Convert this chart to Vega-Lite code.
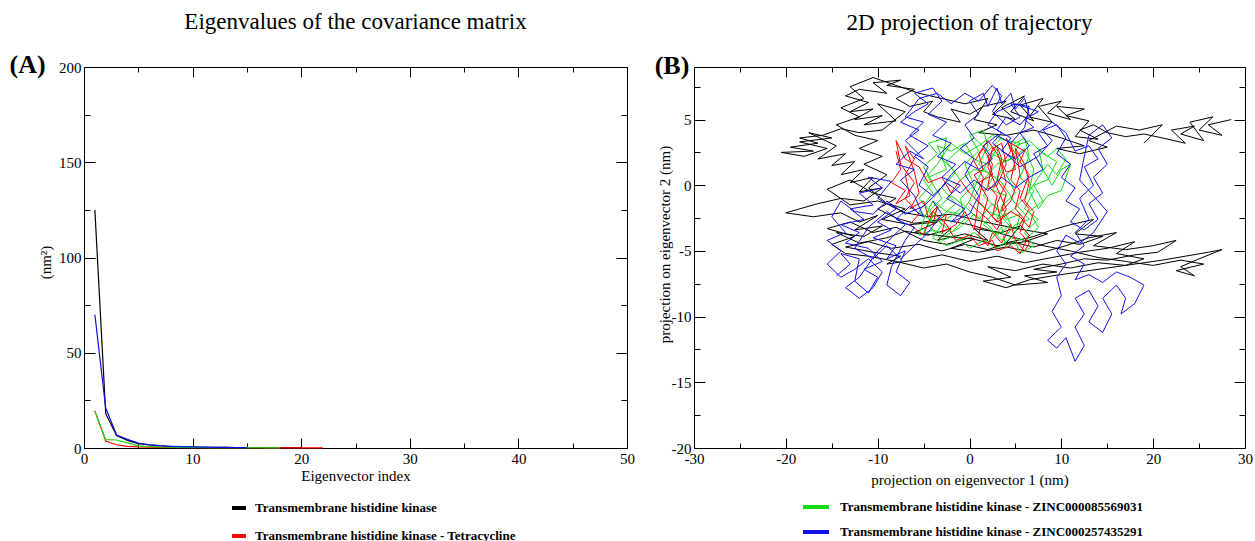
{
"$schema": "https://vega.github.io/schema/vega-lite/v6.json",
"background": "white",
"padding": {"left": 8, "top": 10, "right": 0, "bottom": 0},
"spacing": 19,
"config": {
  "font": "Liberation Serif",
  "view": {"stroke": "black", "strokeWidth": 1},
  "axis": {"domain": false, "grid": false, "labelFont": "Liberation Serif", "labelFontSize": 15, "labelColor": "black", "titleFont": "Liberation Serif", "titleFontSize": 15, "titleFontWeight": "normal", "titleColor": "black", "tickColor": "black", "tickWidth": 1, "labelOverlap": false, "labelFlush": false, "minExtent": 0},
  "title": {"font": "Liberation Serif", "fontSize": 23, "fontWeight": "normal", "color": "black", "offset": 18},
  "legend": {"title": null, "orient": "none", "direction": "vertical", "symbolType": "stroke", "symbolStrokeWidth": 4, "labelFont": "Liberation Serif", "labelFontSize": 13, "labelFontWeight": "bold", "labelColor": "black", "labelLimit": 600}
},
"resolve": {"scale": {"color": "independent"}, "legend": {"color": "independent"}},
"hconcat": [
{
  "width": 543, "height": 381,
  "title": {"text": "Eigenvalues of the covariance matrix"},
  "resolve": {"axis": {"x": "independent", "y": "independent"}},
  "layer": [
    {"data": {"values": [{"x":1,"y":125},{"x":2,"y":18},{"x":3,"y":6.5},{"x":4,"y":4},{"x":5,"y":2.3},{"x":6,"y":1.6},{"x":7,"y":1.1},{"x":8,"y":0.8},{"x":9,"y":0.6},{"x":10,"y":0.5},{"x":11,"y":0.4},{"x":12,"y":0.35},{"x":13,"y":0.3},{"x":14,"y":0.25},{"x":15,"y":0.2},{"x":16,"y":0.18},{"x":17,"y":0.16},{"x":18,"y":0.14},{"x":19,"y":0.12},{"x":20,"y":0.1}]},
     "mark": {"type": "line", "strokeWidth": 1.2},
     "encoding": {
        "x": {"field": "x", "type": "quantitative", "scale": {"domain": [0, 50], "nice": false, "zero": false},
              "axis": {"orient": "bottom", "title": "Eigenvector index", "titleY": 20, "values": [0,5,10,15,20,25,30,35,40,45,50],
                       "labelExpr": "datum.value % 10 === 0 ? '' + datum.value : ''",
                       "tickSize": {"condition": {"test": "datum.value % 10 === 0", "value": -10}, "value": -5}, "labelPadding": 13}},
        "y": {"field": "y", "type": "quantitative", "scale": {"domain": [0, 200], "nice": false},
              "axis": {"orient": "left", "title": "(nm²)", "titleAngle": 270, "titleBaseline": "middle", "titleX": -39, "titleY": 195, "values": [0,25,50,75,100,125,150,175,200],
                       "labelExpr": "datum.value % 50 === 0 ? '' + datum.value : ''",
                       "tickSize": {"condition": {"test": "datum.value % 50 === 0", "value": -11}, "value": -6}, "labelPadding": 14}},
        "color": {"datum": "Transmembrane histidine kinase", "type": "nominal",
            "scale": {"domain": ["Transmembrane histidine kinase", "Transmembrane histidine kinase - Tetracycline", "Transmembrane histidine kinase - ZINC000085569031", "Transmembrane histidine kinase - ZINC000257435291"], "range": ["#000000", "#ff0000", "#10dd10", "#1010e8"]},
            "legend": {"values": ["Transmembrane histidine kinase", "Transmembrane histidine kinase - Tetracycline"], "legendX": 146, "legendY": 432, "symbolSize": 196, "labelOffset": 7, "rowPadding": 11}}}},
    {"data": {"values": [{"x":1,"y":19.5},{"x":2,"y":3.6},{"x":3,"y":1.7},{"x":4,"y":0.9},{"x":5,"y":0.6},{"x":6,"y":0.45},{"x":7,"y":0.35},{"x":8,"y":0.3},{"x":10,"y":0.22},{"x":12,"y":0.18},{"x":15,"y":0.14},{"x":18,"y":0.1},{"x":22,"y":0.08}]},
     "mark": {"type": "line", "strokeWidth": 1.2},
     "encoding": {
        "x": {"field": "x", "type": "quantitative", "scale": {"domain": [0, 50], "nice": false, "zero": false}, "axis": null},
        "y": {"field": "y", "type": "quantitative", "scale": {"domain": [0, 200], "nice": false}, "axis": null},
        "color": {"datum": "Transmembrane histidine kinase - Tetracycline", "type": "nominal",
            "scale": {"domain": ["Transmembrane histidine kinase", "Transmembrane histidine kinase - Tetracycline", "Transmembrane histidine kinase - ZINC000085569031", "Transmembrane histidine kinase - ZINC000257435291"], "range": ["#000000", "#ff0000", "#10dd10", "#1010e8"]}}}},
    {"data": {"values": [{"x":1,"y":19.5},{"x":2,"y":4.4},{"x":3,"y":4.2},{"x":4,"y":2.7},{"x":5,"y":1.1},{"x":6,"y":0.8},{"x":7,"y":0.6},{"x":8,"y":0.45},{"x":9,"y":0.35},{"x":10,"y":0.3},{"x":12,"y":0.22},{"x":14,"y":0.17},{"x":16,"y":0.13},{"x":18,"y":0.1}]},
     "mark": {"type": "line", "strokeWidth": 1.2},
     "encoding": {
        "x": {"field": "x", "type": "quantitative", "scale": {"domain": [0, 50], "nice": false, "zero": false}, "axis": null},
        "y": {"field": "y", "type": "quantitative", "scale": {"domain": [0, 200], "nice": false}, "axis": null},
        "color": {"datum": "Transmembrane histidine kinase - ZINC000085569031", "type": "nominal",
            "scale": {"domain": ["Transmembrane histidine kinase", "Transmembrane histidine kinase - Tetracycline", "Transmembrane histidine kinase - ZINC000085569031", "Transmembrane histidine kinase - ZINC000257435291"], "range": ["#000000", "#ff0000", "#10dd10", "#1010e8"]}}}},
    {"data": {"values": [{"x":1,"y":70},{"x":2,"y":21},{"x":3,"y":6.8},{"x":4,"y":4.5},{"x":5,"y":2.6},{"x":6,"y":1.7},{"x":7,"y":1.2},{"x":8,"y":0.9},{"x":9,"y":0.7},{"x":10,"y":0.55},{"x":11,"y":0.45},{"x":12,"y":0.38},{"x":13,"y":0.32},{"x":14,"y":0.27},{"x":15,"y":0.22}]},
     "mark": {"type": "line", "strokeWidth": 1.2},
     "encoding": {
        "x": {"field": "x", "type": "quantitative", "scale": {"domain": [0, 50], "nice": false, "zero": false}, "axis": null},
        "y": {"field": "y", "type": "quantitative", "scale": {"domain": [0, 200], "nice": false}, "axis": null},
        "color": {"datum": "Transmembrane histidine kinase - ZINC000257435291", "type": "nominal",
            "scale": {"domain": ["Transmembrane histidine kinase", "Transmembrane histidine kinase - Tetracycline", "Transmembrane histidine kinase - ZINC000085569031", "Transmembrane histidine kinase - ZINC000257435291"], "range": ["#000000", "#ff0000", "#10dd10", "#1010e8"]}}}},
    {"data": {"values": [{}]},
     "mark": {"type": "text", "text": "(A)", "font": "Liberation Serif", "fontSize": 26, "fontWeight": "bold", "align": "center", "baseline": "middle", "color": "black"},
     "encoding": {"x": {"datum": -5.2, "type": "quantitative", "axis": null}, "y": {"datum": 201, "type": "quantitative", "axis": null}}},
    {"data": {"values": []},
     "mark": "point",
     "encoding": {
        "x": {"field": "x", "type": "quantitative", "scale": {"domain": [0, 50], "nice": false, "zero": false},
              "axis": {"orient": "top", "title": null, "labels": false, "values": [0,5,10,15,20,25,30,35,40,45,50],
                       "tickSize": {"condition": {"test": "datum.value % 10 === 0", "value": -10}, "value": -5}}},
        "y": {"field": "y", "type": "quantitative", "scale": {"domain": [0, 200], "nice": false},
              "axis": {"orient": "right", "title": null, "labels": false, "values": [0,25,50,75,100,125,150,175,200],
                       "tickSize": {"condition": {"test": "datum.value % 50 === 0", "value": -11}, "value": -6}}}
     }}
  ]
},
{
  "width": 551, "height": 381,
  "title": {"text": "2D projection of trajectory"},
  "resolve": {"axis": {"x": "independent", "y": "independent"}},
  "layer": [
    {"data": {"values": [
{"x":28.5,"y":5.0},{"x":26,"y":4.6},{"x":27.5,"y":3.8},{"x":25,"y":4.2},{"x":26.5,"y":5.2},{"x":24,"y":4.8},{"x":25.5,"y":3.4},{"x":23,"y":3.9},{"x":24.5,"y":4.5},{"x":22,"y":4.2},{"x":23.5,"y":3.2},{"x":21,"y":3.6},{"x":19,"y":3.9},{"x":17,"y":3.7},{"x":15,"y":4.0},{"x":13.5,"y":4.6},{"x":12,"y":4.2},{"x":14,"y":3.5},{"x":11.5,"y":3.7},{"x":13,"y":4.9},{"x":10.5,"y":5.3},{"x":12.5,"y":5.8},{"x":9.5,"y":6.0},{"x":11,"y":5.0},{"x":8.5,"y":5.5},{"x":10,"y":6.4},{"x":7.5,"y":6.0},{"x":9,"y":4.8},{"x":6.5,"y":5.2},{"x":8,"y":6.6},{"x":5.5,"y":6.1},{"x":7,"y":4.9},{"x":4.5,"y":5.6},{"x":6,"y":6.8},{"x":3.5,"y":5.9},{"x":5,"y":5.0},{"x":2.5,"y":5.4},{"x":4,"y":6.4},{"x":1.5,"y":6.0},{"x":0,"y":5.4},{"x":-2,"y":5.8},{"x":-1,"y":4.8},{"x":-3.5,"y":5.2},{"x":-5,"y":5.6},{"x":-4,"y":6.4},{"x":-6.5,"y":6.0},{"x":-8,"y":6.6},{"x":-6,"y":7.3},{"x":-9,"y":7.6},{"x":-7.5,"y":8.0},{"x":-10.5,"y":7.8},{"x":-9,"y":7.0},{"x":-12,"y":7.3},{"x":-13.5,"y":6.8},{"x":-11,"y":6.3},{"x":-13,"y":5.6},{"x":-10.5,"y":5.8},{"x":-12.5,"y":5.0},{"x":-9.5,"y":5.3},{"x":-11.5,"y":4.6},{"x":-8,"y":4.9},{"x":-10,"y":6.2},{"x":-7,"y":5.6},{"x":-9.5,"y":4.2},{"x":-12,"y":4.0},{"x":-14,"y":4.3},{"x":-16,"y":3.8},{"x":-18.5,"y":3.6},{"x":-16.5,"y":3.2},{"x":-19.5,"y":2.9},{"x":-17,"y":2.6},{"x":-20.5,"y":2.5},{"x":-18,"y":2.2},{"x":-15.5,"y":2.8},{"x":-18.5,"y":3.3},{"x":-15,"y":3.6},{"x":-17.5,"y":4.0},{"x":-14.5,"y":3.0},{"x":-16.5,"y":2.0},{"x":-13.5,"y":2.4},{"x":-15,"y":1.5},{"x":-12.5,"y":1.8},{"x":-14,"y":0.8},{"x":-11.5,"y":1.2},{"x":-13,"y":0.2},{"x":-10.5,"y":0.6},{"x":-12,"y":-0.5},{"x":-9.5,"y":-0.2},{"x":-11.5,"y":-1.2},{"x":-14,"y":-1.0},{"x":-16.5,"y":-1.4},{"x":-20,"y":-2.1},{"x":-17,"y":-2.4},{"x":-14,"y":-2.1},{"x":-12,"y":-2.8},{"x":-10,"y":-2.3},{"x":-12.5,"y":-3.4},{"x":-9.5,"y":-3.1},{"x":-11.5,"y":-3.9},{"x":-14.5,"y":-3.6},{"x":-12,"y":-4.4},{"x":-9,"y":-4.0},{"x":-7,"y":-3.5},{"x":-4.5,"y":-3.8},{"x":-2,"y":-3.3},{"x":-3.5,"y":-4.2},{"x":-0.5,"y":-3.7},{"x":2,"y":-4.2},{"x":0.5,"y":-3.3},{"x":3.5,"y":-3.6},{"x":5.5,"y":-3.1},{"x":4,"y":-4.4},{"x":7,"y":-3.9},{"x":9,"y":-3.4},{"x":11,"y":-3.0},{"x":13.5,"y":-2.6},{"x":11.5,"y":-3.7},{"x":14.5,"y":-3.9},{"x":12,"y":-4.5},{"x":9.5,"y":-4.2},{"x":7,"y":-4.7},{"x":4.5,"y":-4.3},{"x":2,"y":-4.9},{"x":-0.5,"y":-4.5},{"x":-3,"y":-5.0},{"x":-5.5,"y":-4.5},{"x":-8.5,"y":-4.8},{"x":-11,"y":-4.3},{"x":-13.5,"y":-4.7},{"x":-10.5,"y":-5.1},{"x":-7.5,"y":-5.4},{"x":-9,"y":-6.0},{"x":-6,"y":-5.7},{"x":-3,"y":-5.3},{"x":0,"y":-5.8},{"x":3,"y":-5.4},{"x":6,"y":-5.9},{"x":9,"y":-5.5},{"x":12,"y":-5.1},{"x":15,"y":-4.8},{"x":18,"y":-4.3},{"x":16,"y":-5.2},{"x":19,"y":-5.6},{"x":17,"y":-6.1},{"x":14,"y":-5.9},{"x":11,"y":-6.3},{"x":8,"y":-6.0},{"x":5,"y":-6.5},{"x":2,"y":-6.2},{"x":4.5,"y":-7.0},{"x":1.5,"y":-7.3},{"x":4,"y":-7.8},{"x":6.5,"y":-7.2},{"x":9,"y":-6.9},{"x":12,"y":-6.6},{"x":15,"y":-6.3},{"x":18,"y":-6.0},{"x":21,"y":-5.7},{"x":23.5,"y":-5.4},{"x":26,"y":-5.1},{"x":27.5,"y":-4.9},{"x":25,"y":-5.6},{"x":23,"y":-6.2},{"x":24.5,"y":-6.9},{"x":22.5,"y":-6.5},{"x":25.5,"y":-6.0},{"x":23,"y":-5.7},{"x":20,"y":-6.1},{"x":17,"y":-5.8},{"x":14,"y":-5.5},{"x":11,"y":-5.0},{"x":8,"y":-4.6},{"x":5,"y":-4.0},{"x":2.5,"y":-3.5},{"x":0,"y":-3.0},{"x":-3,"y":-2.6},{"x":-6,"y":-2.9},{"x":-8,"y":-2.5},{"x":-10,"y":-1.8},{"x":-8,"y":-1.0},{"x":-10.5,"y":-0.6},
{"x":-13,"y":0.4},{"x":-15.5,"y":-0.3},{"x":-13,"y":-1.5},{"x":-10,"y":-1.2},{"x":-7,"y":-1.8},{"x":-9.5,"y":-2.6},{"x":-6.5,"y":-3.0},{"x":-3.5,"y":-2.8},{"x":-6,"y":-3.6},{"x":-2.5,"y":-3.9},{"x":0.5,"y":-4.1},{"x":-2,"y":-4.8},{"x":1,"y":-5.1},{"x":4,"y":-4.7},{"x":7.5,"y":-5.2},{"x":10.5,"y":-4.6},{"x":13,"y":-4.0},{"x":16,"y":-3.6},{"x":13.5,"y":-4.6},{"x":17,"y":-4.9},{"x":20,"y":-4.6},{"x":22.5,"y":-4.2},{"x":20.5,"y":-5.1},{"x":18,"y":-5.3},{"x":15,"y":-5.7},{"x":12.5,"y":-5.6},{"x":10,"y":-6.0},{"x":7,"y":-6.4},{"x":9.5,"y":-6.6},{"x":6,"y":-6.9},{"x":8.5,"y":-7.4},{"x":5,"y":-7.6},{"x":2.5,"y":-7.0},{"x":0,"y":-6.6},{"x":-2.5,"y":-6.0},{"x":-5,"y":-6.3},{"x":-8,"y":-5.8},{"x":-11,"y":-5.4},{"x":-13.5,"y":-5.2},{"x":-15,"y":-4.5},{"x":-12.5,"y":-3.9},{"x":-15.5,"y":-3.3},{"x":-13,"y":-2.8},{"x":-10.5,"y":-3.6},{"x":-8,"y":-3.2},{"x":-5,"y":-4.2},{"x":-2.5,"y":-4.5},{"x":0,"y":-4.0},{"x":3,"y":-4.6},{"x":6,"y":-4.3},{"x":8.5,"y":-3.7},{"x":6,"y":-3.4},{"x":3,"y":-3.0},{"x":0.5,"y":-2.6},{"x":-2,"y":-2.2},{"x":-4.5,"y":-2.4},{"x":-7,"y":-2.1},{"x":-9,"y":-1.4},{"x":-11,"y":-0.2},{"x":-9,"y":0.8},{"x":-11.5,"y":1.6},{"x":-9.5,"y":2.2},{"x":-12,"y":2.8},{"x":-10,"y":3.4},{"x":-12.5,"y":3.8},{"x":-14.5,"y":4.6},{"x":-12,"y":5.2},{"x":-14,"y":5.9},{"x":-11.5,"y":6.6},{"x":-13,"y":7.5},{"x":-10.5,"y":8.2},{"x":-8,"y":7.6},{"x":-5.5,"y":7.0},{"x":-3,"y":6.6},{"x":-0.5,"y":6.2},{"x":2,"y":6.6},{"x":0.5,"y":5.0},{"x":3,"y":4.6},{"x":1,"y":4.0},{"x":4,"y":3.8},{"x":7,"y":4.2},{"x":10,"y":3.6},{"x":12.5,"y":3.0},{"x":9.5,"y":2.8},{"x":12,"y":2.4},{"x":15,"y":2.9},{"x":13,"y":3.4},{"x":16,"y":4.5},{"x":18.5,"y":4.2},{"x":21,"y":4.6},{"x":19,"y":3.2}
     ]},
     "mark": {"type": "line", "strokeWidth": 1},
     "encoding": {
        "order": {"value": null},
        "x": {"field": "x", "type": "quantitative", "scale": {"domain": [-30, 30], "nice": false, "zero": false},
              "axis": {"orient": "bottom", "title": "projection on eigenvector 1 (nm)", "titleY": 24, "values": [-30,-25,-20,-15,-10,-5,0,5,10,15,20,25,30],
                       "labelExpr": "datum.value % 10 === 0 ? '' + datum.value : ''",
                       "tickSize": {"condition": {"test": "datum.value % 10 === 0", "value": -10}, "value": -5}, "labelPadding": 13}},
        "y": {"field": "y", "type": "quantitative", "scale": {"domain": [-20, 9], "nice": false, "zero": false},
              "axis": {"orient": "left", "title": "projection on eigenvector 2 (nm)", "titleAngle": 270, "titleBaseline": "middle", "titleX": -30, "titleY": 177, "values": [-20,-17.5,-15,-12.5,-10,-7.5,-5,-2.5,0,2.5,5,7.5],
                       "labelExpr": "datum.value % 5 === 0 ? '' + datum.value : ''",
                       "tickSize": {"condition": {"test": "datum.value % 5 === 0", "value": -11}, "value": -6}, "labelPadding": 14}},
        "color": {"datum": "Transmembrane histidine kinase", "type": "nominal",
            "scale": {"domain": ["Transmembrane histidine kinase", "Transmembrane histidine kinase - Tetracycline", "Transmembrane histidine kinase - ZINC000085569031", "Transmembrane histidine kinase - ZINC000257435291"], "range": ["#000000", "#ff0000", "#10dd10", "#1010e8"]},
            "legend": {"values": ["Transmembrane histidine kinase - ZINC000085569031", "Transmembrane histidine kinase - ZINC000257435291"], "legendX": 107, "legendY": 425, "symbolSize": 676, "labelOffset": 9, "rowPadding": 2,
                       "encode": {"symbols": {"update": {"stroke": {"signal": "datum.value === 'Transmembrane histidine kinase - ZINC000085569031' ? '#2aae4a' : '#1b2866'"}}}}}}}},
    {"data": {"values": [
{"x":-5,"y":-3.6},{"x":-4,"y":-2.2},{"x":-5.5,"y":-1.0},{"x":-4,"y":0.2},{"x":-5,"y":1.4},{"x":-3.5,"y":2.4},{"x":-4.5,"y":3.2},{"x":-2.5,"y":3.6},{"x":-3,"y":2.0},{"x":-1.5,"y":1.0},{"x":-3,"y":-0.2},{"x":-1.5,"y":-1.4},{"x":-3.5,"y":-2.6},{"x":-2,"y":-3.6},{"x":-0.5,"y":-2.6},{"x":-1,"y":-1.0},{"x":0.5,"y":0.0},{"x":-0.5,"y":1.6},{"x":1,"y":2.6},{"x":0,"y":3.8},{"x":1.5,"y":4.2},{"x":2,"y":3.0},{"x":1,"y":1.6},{"x":2.5,"y":0.6},{"x":1.5,"y":-0.8},{"x":3,"y":-1.8},{"x":1.5,"y":-3.0},{"x":3,"y":-3.8},{"x":4.5,"y":-3.0},{"x":3.5,"y":-1.6},{"x":5,"y":-0.6},{"x":4,"y":0.8},{"x":5.5,"y":1.8},{"x":4.5,"y":3.0},{"x":6,"y":3.6},{"x":6.5,"y":2.2},{"x":5.5,"y":0.6},{"x":7,"y":-0.4},{"x":6,"y":-1.8},{"x":7.5,"y":-2.6},{"x":6,"y":-3.6},{"x":7,"y":-4.6},{"x":5.5,"y":-5.2},{"x":5,"y":-4.2},{"x":4,"y":-4.8},{"x":3.5,"y":-3.2},{"x":2,"y":-4.4},{"x":0.5,"y":-3.6},{"x":-1,"y":-4.2},{"x":-2.5,"y":-4.6},{"x":-4,"y":-4.0},{"x":-3,"y":-3.0},{"x":-4.5,"y":-2.0},{"x":-3,"y":-1.0},{"x":-4.5,"y":0.6},{"x":-2.5,"y":1.2},{"x":-3.5,"y":3.0},{"x":-2,"y":2.6},{"x":-0.5,"y":3.2},{"x":0.5,"y":2.0},{"x":2,"y":1.6},{"x":3,"y":2.8},{"x":3.5,"y":1.2},{"x":2.5,"y":-0.4},{"x":4,"y":-0.8},{"x":3,"y":-2.6},{"x":4.5,"y":-2.0},{"x":6,"y":-1.0},{"x":7.5,"y":0.6},{"x":8.5,"y":1.6},{"x":9.5,"y":0.8},{"x":10.5,"y":2.0},{"x":9.5,"y":2.8},{"x":8.5,"y":2.2},{"x":7.5,"y":2.8},{"x":8,"y":1.2},{"x":9,"y":0.0},{"x":10,"y":1.2},{"x":11,"y":1.6},{"x":10,"y":-0.4},{"x":8.5,"y":-0.8},{"x":7.5,"y":-1.8},{"x":6.5,"y":-0.4},{"x":7,"y":1.2},{"x":6,"y":2.8},{"x":5,"y":2.2},{"x":4,"y":1.8},{"x":2.5,"y":2.4},{"x":1,"y":0.6},{"x":0,"y":-1.2},{"x":-1,"y":-2.2},{"x":-2.5,"y":-2.0},{"x":-4,"y":-1.2},{"x":-5,"y":-2.6},{"x":-5.5,"y":-3.8},{"x":-4,"y":-3.4},{"x":-2.5,"y":-3.8},{"x":-1,"y":-3.2},{"x":0.5,"y":-2.2},{"x":2,"y":-3.0},{"x":3.5,"y":-4.2},{"x":5,"y":-3.0},{"x":6.5,"y":-2.6},{"x":5,"y":-1.4},{"x":3.5,"y":0.2},{"x":2,"y":1.0},{"x":0.5,"y":1.2},
{"x":-1,"y":0.4},{"x":-2.5,"y":1.8},{"x":-1,"y":2.8},{"x":0.5,"y":3.6},{"x":2,"y":2.6},{"x":3.5,"y":3.6},{"x":5,"y":3.0},{"x":6.5,"y":3.4},{"x":8,"y":2.4},{"x":9.5,"y":1.8},{"x":8.5,"y":0.4},{"x":7,"y":0.0},{"x":8,"y":-1.2},{"x":6.5,"y":-2.0},{"x":7.5,"y":-3.2},{"x":6,"y":-4.2},{"x":4.5,"y":-4.0},{"x":3,"y":-4.8},{"x":1.5,"y":-4.2},{"x":0,"y":-4.8},{"x":-1.5,"y":-3.8},{"x":-3,"y":-4.2},{"x":-4.5,"y":-3.0},{"x":-3.5,"y":-1.8},{"x":-2,"y":-0.8},{"x":-0.5,"y":-1.6},{"x":1,"y":-2.6},{"x":2.5,"y":-1.4},{"x":4,"y":-2.6},{"x":5.5,"y":-2.2},{"x":5,"y":-3.6},{"x":3.5,"y":-2.4},{"x":2,"y":-2.0},{"x":0.5,"y":-1.0},{"x":1.5,"y":0.4},{"x":3,"y":1.6},{"x":4.5,"y":2.0},{"x":5.5,"y":3.2},{"x":4,"y":3.4},{"x":2.5,"y":3.8},{"x":1,"y":3.0},{"x":-0.5,"y":2.4},{"x":-2,"y":3.2},{"x":-3.5,"y":1.6},{"x":-5,"y":0.4},{"x":-4,"y":-0.6},{"x":-5.5,"y":-2.0},{"x":-4,"y":-2.8},{"x":-2.5,"y":-2.6},{"x":-1,"y":-1.8}
     ]},
     "mark": {"type": "line", "strokeWidth": 1},
     "encoding": {
        "order": {"value": null},
        "x": {"field": "x", "type": "quantitative", "scale": {"domain": [-30, 30], "nice": false, "zero": false}, "axis": null},
        "y": {"field": "y", "type": "quantitative", "scale": {"domain": [-20, 9], "nice": false, "zero": false}, "axis": null},
        "color": {"datum": "Transmembrane histidine kinase - ZINC000085569031", "type": "nominal",
            "scale": {"domain": ["Transmembrane histidine kinase", "Transmembrane histidine kinase - Tetracycline", "Transmembrane histidine kinase - ZINC000085569031", "Transmembrane histidine kinase - ZINC000257435291"], "range": ["#000000", "#ff0000", "#10dd10", "#1010e8"]}}}},
    {"data": {"values": [
{"x":-8,"y":2.6},{"x":-7.5,"y":1.2},{"x":-8.5,"y":0.2},{"x":-7,"y":-0.4},{"x":-8,"y":-1.4},{"x":-6.5,"y":-0.8},{"x":-7,"y":0.8},{"x":-6,"y":2.0},{"x":-7,"y":3.0},{"x":-6,"y":1.0},{"x":-5.5,"y":-0.6},{"x":-6.5,"y":-1.8},{"x":-5,"y":-1.2},{"x":-4.5,"y":-2.4},{"x":-3.5,"y":-1.6},{"x":-4,"y":-3.0},{"x":-2.5,"y":-2.2},{"x":-3,"y":-3.6},{"x":-1.5,"y":-3.0},{"x":-0.5,"y":-2.0},{"x":0.5,"y":-3.4},{"x":1,"y":-1.2},{"x":1.5,"y":0.6},{"x":0.5,"y":1.8},{"x":1.5,"y":2.8},{"x":2.5,"y":1.6},{"x":2,"y":0.0},{"x":3,"y":-0.8},{"x":2.5,"y":-2.4},{"x":3.5,"y":-3.0},{"x":3,"y":-1.4},{"x":4,"y":0.2},{"x":3.5,"y":1.6},{"x":4.5,"y":2.6},{"x":4,"y":3.6},{"x":5,"y":2.0},{"x":4.5,"y":0.4},{"x":5.5,"y":-0.4},{"x":5,"y":-1.8},{"x":6,"y":-2.6},{"x":5.5,"y":-3.6},{"x":6.5,"y":-4.4},{"x":6,"y":-5.0},{"x":5,"y":-4.2},{"x":4.5,"y":-3.0},{"x":3.5,"y":-4.4},{"x":2.5,"y":-3.6},{"x":2,"y":-4.6},{"x":1,"y":-3.8},{"x":1.5,"y":-2.2},{"x":2,"y":-1.0},{"x":1,"y":0.2},{"x":2.5,"y":0.8},{"x":2,"y":2.2},{"x":3,"y":3.0},{"x":3.5,"y":2.0},{"x":3,"y":0.4},{"x":4,"y":-0.6},{"x":3.5,"y":-2.0},{"x":4.5,"y":-1.2},{"x":5.5,"y":0.8},{"x":5,"y":2.8},{"x":6,"y":1.6},{"x":6.5,"y":0.2},{"x":6,"y":-1.2},{"x":7,"y":-2.0},{"x":6.5,"y":-3.2},{"x":5.5,"y":-2.4},{"x":4.5,"y":-2.0},{"x":3,"y":-2.8},{"x":1.5,"y":-1.6},{"x":0,"y":-0.6},{"x":-1,"y":0.4},{"x":-2,"y":-0.6},{"x":-3,"y":0.6},{"x":-4.5,"y":0.2},{"x":-5.5,"y":1.4},{"x":-7,"y":2.0},{"x":-8,"y":3.4},
{"x":-7.5,"y":1.6},{"x":-6,"y":0.2},{"x":-7,"y":-1.0},{"x":-5.5,"y":-2.2},{"x":-6.5,"y":-3.0},{"x":-5,"y":-3.8},{"x":-4,"y":-2.0},{"x":-2.5,"y":-3.0},{"x":-1.5,"y":-4.2},{"x":0,"y":-3.8},{"x":1,"y":-4.6},{"x":2.5,"y":-4.2},{"x":3,"y":-5.0},{"x":4.5,"y":-4.6},{"x":5.5,"y":-5.2},{"x":6.5,"y":-3.8},{"x":5.5,"y":-3.0},{"x":6.5,"y":-1.8},{"x":5.5,"y":-1.0},{"x":6.5,"y":0.8},{"x":5.5,"y":1.8},{"x":6,"y":2.6},{"x":4.5,"y":3.2},{"x":5,"y":1.2},{"x":4,"y":1.0},{"x":3,"y":2.4},{"x":2,"y":3.4},{"x":1,"y":2.4},{"x":1.5,"y":1.2},{"x":0.5,"y":0.8},{"x":1.5,"y":-0.4},{"x":3,"y":0.0},{"x":4,"y":1.6},{"x":3.5,"y":3.2},{"x":2.5,"y":2.8},{"x":2,"y":1.4},{"x":3,"y":-0.2},{"x":4,"y":-1.8},{"x":3,"y":-3.4},{"x":2,"y":-2.6},{"x":1,"y":-2.0},{"x":0,"y":-1.4}
     ]},
     "mark": {"type": "line", "strokeWidth": 1},
     "encoding": {
        "order": {"value": null},
        "x": {"field": "x", "type": "quantitative", "scale": {"domain": [-30, 30], "nice": false, "zero": false}, "axis": null},
        "y": {"field": "y", "type": "quantitative", "scale": {"domain": [-20, 9], "nice": false, "zero": false}, "axis": null},
        "color": {"datum": "Transmembrane histidine kinase - Tetracycline", "type": "nominal",
            "scale": {"domain": ["Transmembrane histidine kinase", "Transmembrane histidine kinase - Tetracycline", "Transmembrane histidine kinase - ZINC000085569031", "Transmembrane histidine kinase - ZINC000257435291"], "range": ["#000000", "#ff0000", "#10dd10", "#1010e8"]}}}},
    {"data": {"values": [
{"x":-14.5,"y":-6.9},{"x":-13,"y":-6.0},{"x":-14,"y":-5.2},{"x":-12,"y":-5.6},{"x":-12.5,"y":-7.3},{"x":-11,"y":-8.2},{"x":-10,"y":-7.0},{"x":-11.5,"y":-6.4},{"x":-9.5,"y":-5.8},{"x":-11,"y":-4.8},{"x":-13.5,"y":-4.4},{"x":-12,"y":-3.6},{"x":-14,"y":-3.0},{"x":-11.5,"y":-2.6},{"x":-13,"y":-1.8},{"x":-10.5,"y":-1.5},{"x":-12,"y":-0.6},{"x":-9.5,"y":-0.2},{"x":-11,"y":0.6},{"x":-8.5,"y":0.3},{"x":-10,"y":-1.0},{"x":-8,"y":-1.8},{"x":-10,"y":-2.8},{"x":-8.5,"y":-3.4},{"x":-10.5,"y":-4.0},{"x":-8,"y":-4.6},{"x":-9,"y":-5.6},{"x":-7,"y":-5.0},{"x":-8,"y":-6.6},{"x":-6.5,"y":-7.4},{"x":-7.5,"y":-8.4},{"x":-9,"y":-7.6},{"x":-8.5,"y":-6.2},{"x":-7,"y":-4.2},{"x":-6,"y":-3.2},{"x":-8,"y":-2.6},{"x":-6.5,"y":-1.6},{"x":-5,"y":-2.4},{"x":-6,"y":-0.8},{"x":-7.5,"y":0.4},{"x":-6,"y":1.2},{"x":-8,"y":1.6},{"x":-6.5,"y":2.6},{"x":-5,"y":2.0},{"x":-7,"y":3.4},{"x":-5.5,"y":4.2},{"x":-7.5,"y":4.8},{"x":-6,"y":5.6},{"x":-4.5,"y":6.2},{"x":-6,"y":7.0},{"x":-4,"y":7.4},{"x":-3,"y":6.4},{"x":-4.5,"y":5.4},{"x":-2.5,"y":4.8},{"x":-4,"y":3.8},{"x":-2,"y":3.2},{"x":-3.5,"y":2.2},{"x":-1.5,"y":1.6},{"x":-3,"y":0.6},{"x":-1,"y":0.0},{"x":-2.5,"y":-1.0},{"x":-0.5,"y":-1.8},{"x":-2,"y":-2.8},{"x":0,"y":-2.2},{"x":1,"y":-0.8},{"x":-0.5,"y":0.8},{"x":0.5,"y":2.0},{"x":-1,"y":2.8},{"x":0.5,"y":3.6},{"x":-0.5,"y":4.6},{"x":1,"y":5.4},{"x":0,"y":6.4},{"x":1.5,"y":7.0},{"x":2,"y":6.0},{"x":3,"y":7.4},{"x":3.5,"y":6.2},{"x":4.5,"y":7.0},{"x":5,"y":5.8},{"x":6,"y":6.6},{"x":6.5,"y":5.4},{"x":5.5,"y":4.6},{"x":4,"y":5.2},{"x":3,"y":4.2},{"x":4.5,"y":3.6},{"x":3.5,"y":2.6},{"x":5,"y":2.0},{"x":6.5,"y":3.0},{"x":5.5,"y":4.0},{"x":7,"y":4.4},{"x":6,"y":5.0},{"x":7.5,"y":5.6},{"x":5,"y":6.2},{"x":3,"y":5.6},{"x":2,"y":4.6},{"x":3.5,"y":4.0},{"x":2.5,"y":3.2},{"x":4,"y":2.4},{"x":5.5,"y":1.4},{"x":7.5,"y":2.2},{"x":9,"y":3.4},{"x":8,"y":4.2},{"x":9.5,"y":4.6},{"x":10.5,"y":3.6},{"x":9.5,"y":2.4},{"x":11,"y":1.6},{"x":10,"y":0.6},{"x":11.5,"y":-0.2},{"x":10.5,"y":-1.2},{"x":12,"y":-1.8},{"x":11,"y":-2.8},{"x":12.5,"y":-3.4},{"x":14,"y":-2.6},{"x":13,"y":-1.4},{"x":14.5,"y":-0.6},{"x":13.5,"y":0.6},{"x":15,"y":1.6},{"x":14,"y":2.8},{"x":15.5,"y":3.6},{"x":14.5,"y":4.6},{"x":13,"y":3.8},{"x":12.5,"y":2.2},{"x":12,"y":0.4},{"x":13.5,"y":-0.8},{"x":15,"y":-2.0},{"x":13.5,"y":-3.6},{"x":12,"y":-4.4},{"x":10.5,"y":-3.8},{"x":9.5,"y":-5.0},{"x":10.5,"y":-6.0},{"x":9.5,"y":-7.0},{"x":10,"y":-8.4},{"x":9,"y":-9.6},{"x":10,"y":-10.8},{"x":8.5,"y":-11.8},{"x":9.5,"y":-12.4},{"x":10.5,"y":-11.6},{"x":11.5,"y":-13.4},{"x":12.5,"y":-12.2},{"x":11.5,"y":-10.8},{"x":12.5,"y":-9.8},{"x":11.5,"y":-8.6},{"x":13,"y":-8.0},{"x":14,"y":-9.2},{"x":13,"y":-10.4},{"x":14.5,"y":-11.2},{"x":15.5,"y":-9.8},{"x":14.5,"y":-8.6},{"x":16,"y":-7.6},{"x":17,"y":-8.6},{"x":16.5,"y":-9.8},{"x":18,"y":-9.0},{"x":19,"y":-7.6},{"x":17.5,"y":-7.0},{"x":16,"y":-6.6},{"x":14.5,"y":-7.4},{"x":13,"y":-6.8},{"x":11.5,"y":-7.2},{"x":12.5,"y":-6.0},{"x":11,"y":-5.4},{"x":12.5,"y":-4.6},{"x":11.5,"y":-3.6},{"x":13,"y":-2.6},{"x":12,"y":-1.0},
{"x":13.5,"y":0.0},{"x":12.5,"y":1.4},{"x":14,"y":2.0},{"x":13,"y":3.0},{"x":11.5,"y":2.6},{"x":10.5,"y":4.0},{"x":9,"y":4.8},{"x":7.5,"y":4.0},{"x":8.5,"y":3.0},{"x":7,"y":2.4},{"x":8,"y":1.2},{"x":6.5,"y":0.6},{"x":5,"y":-0.2},{"x":3.5,"y":0.6},{"x":2,"y":-0.4},{"x":0.5,"y":0.4},{"x":-1,"y":-0.6},{"x":-2.5,"y":0.2},{"x":-4,"y":-0.8},{"x":-5.5,"y":0.0},{"x":-4.5,"y":1.4},{"x":-6,"y":2.2},{"x":-4.5,"y":3.0},{"x":-6.5,"y":3.8},{"x":-5,"y":4.8},{"x":-7,"y":5.2},{"x":-5.5,"y":6.6},{"x":-3.5,"y":7.0},{"x":-2,"y":6.2},{"x":-0.5,"y":7.0},{"x":1,"y":6.4},{"x":2.5,"y":7.6},{"x":3.5,"y":6.8},{"x":2.5,"y":5.6},{"x":4,"y":4.6},{"x":5.5,"y":5.2},{"x":4.5,"y":6.2},{"x":6.5,"y":6.0},{"x":6,"y":4.4},{"x":4.5,"y":3.2},{"x":3,"y":3.8},{"x":1.5,"y":3.0},{"x":2.5,"y":2.0},{"x":1,"y":1.2},{"x":-0.5,"y":1.8},{"x":-2,"y":0.8},{"x":-3.5,"y":-0.6},{"x":-5,"y":-1.6},{"x":-7,"y":-2.2},{"x":-9,"y":-1.2},{"x":-10.5,"y":-2.2},{"x":-12.5,"y":-2.0},{"x":-14,"y":-1.2},{"x":-15,"y":-2.4},{"x":-13.5,"y":-3.6},{"x":-15.5,"y":-4.2},{"x":-14,"y":-5.0},{"x":-15.5,"y":-6.0},{"x":-14,"y":-7.0},{"x":-12.5,"y":-6.4},{"x":-11,"y":-5.6},{"x":-9.5,"y":-6.6},{"x":-10.5,"y":-7.8},{"x":-12,"y":-8.6},{"x":-13.5,"y":-7.8},{"x":-12,"y":-7.0},{"x":-10,"y":-5.0},{"x":-8.5,"y":-4.0},{"x":-7,"y":-3.0},{"x":-9,"y":-2.0},{"x":-11,"y":-3.2},{"x":-12.5,"y":-4.8},{"x":-10.5,"y":-5.6},{"x":-9,"y":-4.6},{"x":-7.5,"y":-5.6},{"x":-6,"y":-4.6},{"x":-4.5,"y":-3.6},{"x":-3,"y":-2.2},{"x":-4,"y":-1.2}
     ]},
     "mark": {"type": "line", "strokeWidth": 1},
     "encoding": {
        "order": {"value": null},
        "x": {"field": "x", "type": "quantitative", "scale": {"domain": [-30, 30], "nice": false, "zero": false}, "axis": null},
        "y": {"field": "y", "type": "quantitative", "scale": {"domain": [-20, 9], "nice": false, "zero": false}, "axis": null},
        "color": {"datum": "Transmembrane histidine kinase - ZINC000257435291", "type": "nominal",
            "scale": {"domain": ["Transmembrane histidine kinase", "Transmembrane histidine kinase - Tetracycline", "Transmembrane histidine kinase - ZINC000085569031", "Transmembrane histidine kinase - ZINC000257435291"], "range": ["#000000", "#ff0000", "#10dd10", "#1010e8"]}}}},
    {"data": {"values": [{}]},
     "mark": {"type": "text", "text": "(B)", "font": "Liberation Serif", "fontSize": 26, "fontWeight": "bold", "align": "center", "baseline": "middle", "color": "black"},
     "encoding": {"x": {"datum": -32.4, "type": "quantitative", "axis": null}, "y": {"datum": 9.1, "type": "quantitative", "axis": null}}},
    {"data": {"values": []},
     "mark": "point",
     "encoding": {
        "x": {"field": "x", "type": "quantitative", "scale": {"domain": [-30, 30], "nice": false, "zero": false},
              "axis": {"orient": "top", "title": null, "labels": false, "values": [-30,-25,-20,-15,-10,-5,0,5,10,15,20,25,30],
                       "tickSize": {"condition": {"test": "datum.value % 10 === 0", "value": -10}, "value": -5}}},
        "y": {"field": "y", "type": "quantitative", "scale": {"domain": [-20, 9], "nice": false, "zero": false},
              "axis": {"orient": "right", "title": null, "labels": false, "values": [-20,-17.5,-15,-12.5,-10,-7.5,-5,-2.5,0,2.5,5,7.5],
                       "tickSize": {"condition": {"test": "datum.value % 5 === 0", "value": -11}, "value": -6}}}
     }}
  ]
}
]
}
